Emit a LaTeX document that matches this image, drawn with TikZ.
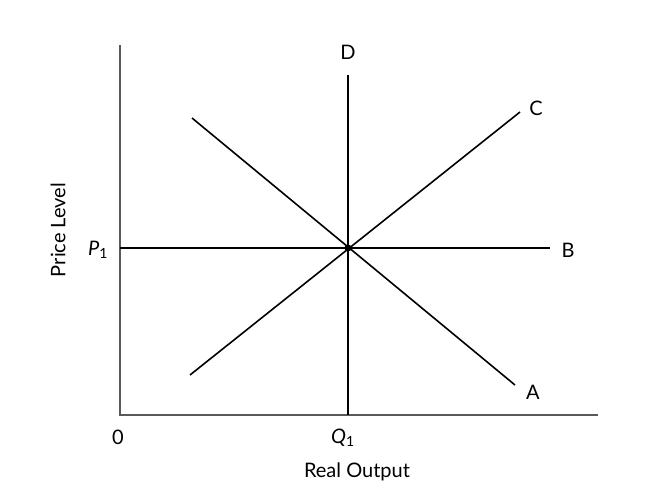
\documentclass[tikz,border=0pt]{standalone}
\usepackage{fontspec}
\setmainfont{Lato}
\begin{document}
\begin{tikzpicture}[x=1pt,y=-1pt,font=\fontsize{20}{22}\selectfont]
    \tikzset{curve/.style={line width=1.6pt},
             axis/.style={line width=1.3pt,gray!70!black}}
    \useasboundingbox (0,0) rectangle (653,496);
    % axes
    \coordinate (top) at (120,45);
    \coordinate (origin) at (120,415);
    \coordinate (right) at (598,415);
    \draw[axis] (top) -- (origin) -- (right);
    % curves
    \coordinate (E) at (348,248);
    \coordinate (Dtop) at (348,75);
    \coordinate (Dbot) at (348,415);
    \coordinate (Bleft) at (120,248);
    \coordinate (Bright) at (550,248);
    \coordinate (Clow) at (190,375);
    \coordinate (Chigh) at (520,112);
    \coordinate (Ahigh) at (192,118);
    \coordinate (Alow) at (515,385);
    \draw[curve] (Dtop) -- (Dbot);
    \draw[curve] (Bleft) -- (Bright);
    \draw[curve] (Clow) -- (Chigh);
    \draw[curve] (Ahigh) -- (Alow);
    \fill (E) circle (3.5pt);
    % labels
    \node (labD) at (348,52) {D};
    \node (labC) at (536,108) {C};
    \node (labB) at (568,250) {B};
    \node (labA) at (533,392) {A};
    \node (labP) at (98,250) {\textit{P}\textsubscript{1}};
    \node (labQ) at (343,438) {\textit{Q}\textsubscript{1}};
    \node (lab0) at (118,437) {0};
    \node (xlab) at (357,472) {Real Output};
    \node[rotate=90] (ylab) at (58,230) {Price Level};
\end{tikzpicture}
\end{document}
